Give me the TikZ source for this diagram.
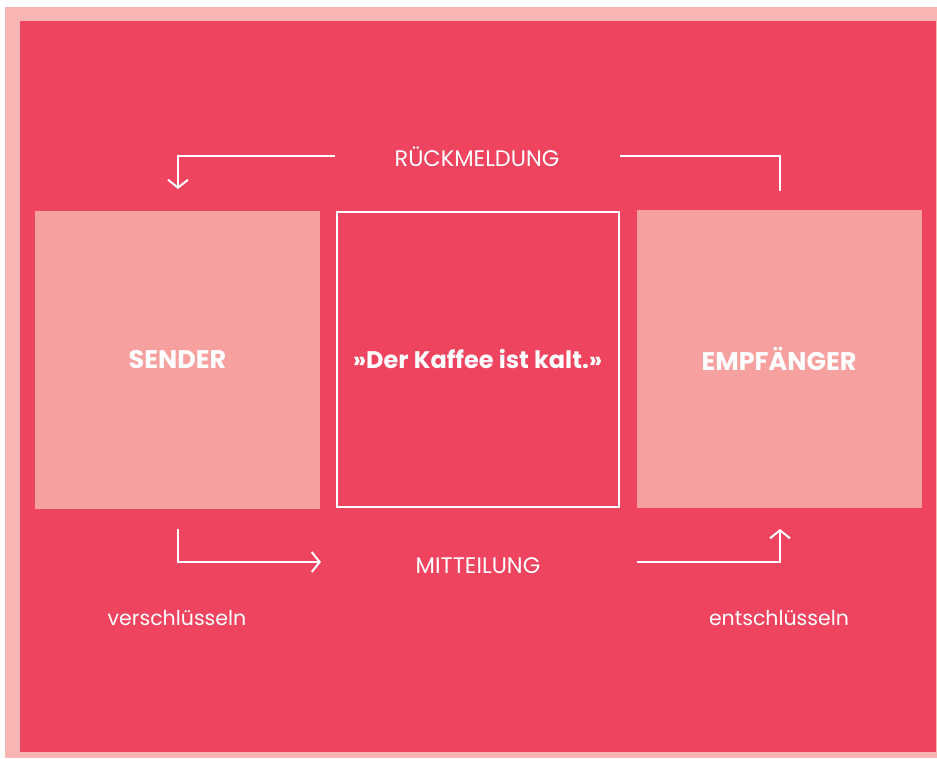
\documentclass[tikz,border=0pt]{standalone}
\usepackage{fontspec}
\setmainfont{Poppins}
\usetikzlibrary{arrows.meta}
\definecolor{framepink}{HTML}{F7B6B3}
\definecolor{bgred}{HTML}{EF4460}
\definecolor{boxpink}{HTML}{F6A19F}
\tikzset{
  panel/.style={fill=boxpink, draw=none, minimum width=285pt, minimum height=298pt, inner sep=0pt,
                text=white, font=\fontsize{25.5}{30}\selectfont\bfseries},
  msgbox/.style={fill=bgred, draw=white, line width=2pt, minimum width=282pt, minimum height=295pt,
                 inner sep=0pt, text=white, font=\fontsize{24}{28}\selectfont\bfseries},
  flow/.style={draw=white, line width=2pt},
  chev/.style={-{Straight Barb[length=8pt,width=20pt,line width=2pt]}},
  caplabel/.style={text=white, font=\fontsize{22.5}{26}\selectfont, inner sep=0pt},
  verblabel/.style={text=white, font=\fontsize{20.5}{24}\selectfont, inner sep=0pt}
}
\begin{document}
\begin{tikzpicture}[x=1pt,y=-1pt]
  \useasboundingbox (0,0) rectangle (937,758);
  % outer frame and background
  \fill[framepink] (5,7) rectangle (937,758);
  \fill[bgred] (20,21) rectangle (936,752);
  % the three panels
  \node[panel]  (sender) at (177.5,360) {SENDER};
  \node[msgbox] (msg)    at (477.5,359) {»Der Kaffee ist kalt.»};
  \node[panel]  (recv)   at (779,359)   {EMPFÄNGER};
  % labels
  \node[caplabel]  (fb)   at (477,157) {RÜCKMELDUNG};
  \node[caplabel]  (note) at (478,566) {MITTEILUNG};
  \node[verblabel] (enc)  at (177,618) {verschlüsseln};
  \node[verblabel] (dec)  at (779,618) {entschlüsseln};
  % anchor points of the connectors
  \coordinate (fbL)  at (335,156);
  \coordinate (fbR)  at (620,156);
  \coordinate (sTop) at (178,189);
  \coordinate (rTop) at (780,191);
  \coordinate (sBot) at (178,529);
  \coordinate (rBot) at (780,529);
  \coordinate (nL)   at (321,562);
  \coordinate (nR)   at (637,562);
  % feedback loop
  \draw[flow, chev] (fbL) -| (sTop);
  \draw[flow] (fbR) -| (rTop);
  % message flow
  \draw[flow, chev] (sBot) |- (nL);
  \draw[flow, chev] (nR) -| (rBot);
\end{tikzpicture}
\end{document}
